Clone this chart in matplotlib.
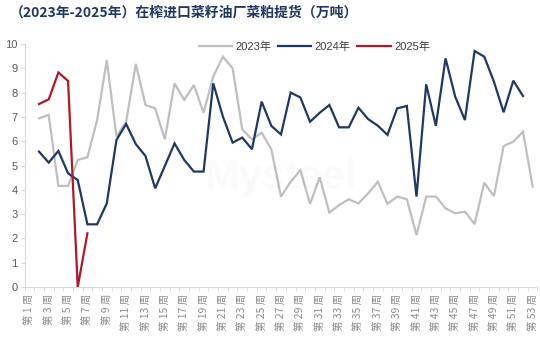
import numpy as np
import matplotlib
matplotlib.use("Agg")
import matplotlib.pyplot as plt
from matplotlib.ticker import FixedLocator

plt.rcParams['font.family'] = ['Liberation Sans', 'Noto Sans CJK SC', 'DejaVu Sans']

nan = np.nan
weeks = list(range(1, 54))
week_labels = [f"第 {w} 周" for w in weeks]

s2023 = [nan, 6.94, 7.08, 4.16, 4.16, 5.23, 5.34, 6.87, 9.34, 6.19,
         6.80, 9.18, 7.49, 7.35, 6.08, 8.38, 7.70, 8.31, 7.17, 8.66,
         9.48, 9.00, 6.49, 6.08, 6.35, 5.67, 3.72, 4.33, 4.81, 3.42,
         4.51, 3.06, 3.37, 3.61, 3.44, 3.85, 4.33, 3.42, 3.72, 3.61,
         2.14, 3.72, 3.72, 3.24, 3.03, 3.10, 2.59, 4.29, 3.74, 5.80,
         5.98, 6.39, 4.13]
s2024 = [nan, 5.57, 5.12, 5.60, 4.68, 4.40, 2.58, 2.58, 3.44, 6.05,
         6.71, 5.88, 5.39, 4.06, 4.98, 5.91, 5.23, 4.75, 4.75, 8.38,
         7.01, 5.94, 6.15, 5.67, 7.63, 6.63, 6.28, 8.00, 7.80, 6.80,
         7.17, 7.49, 6.57, 6.57, 7.38, 6.91, 6.64, 6.26, 7.35, 7.45,
         3.72, 8.34, 6.63, 9.41, 7.83, 6.87, 9.71, 9.48, 8.45, 7.19,
         8.49, 7.86, nan]
s2025 = [nan, 7.53, 7.72, 8.83, 8.48, 0.0, 2.21] + [nan] * 46

series = [("2023年", s2023, "#BFBFBF"),
          ("2024年", s2024, "#1F3864"),
          ("2025年", s2025, "#B0182B")]

title = "（2023年-2025年）在榨进口菜籽油厂菜粕提货（万吨）"

fig = plt.figure(figsize=(5.4, 3.38), dpi=100)
ax = fig.add_axes([24.5 / 540, 1 - 287 / 338, 513 / 540, 243 / 338])

for name, vals, col in series:
    ax.plot(weeks, vals, color=col, lw=1.6, label=name, solid_joinstyle='miter')

ax.set_xlim(0.5, 53.5)
ax.set_ylim(0, 10)
ax.set_yticks(range(0, 11))
ax.set_xticks(weeks[::2])
ax.set_xticklabels(week_labels[::2], rotation=90, fontsize=7.5, color="#8C8C8C",
                   family=['Noto Sans CJK SC', 'DejaVu Sans'])
ax.xaxis.set_minor_locator(FixedLocator(np.arange(0.5, 54, 1)))
ax.tick_params(axis='x', which='major', length=0, pad=5)
ax.tick_params(axis='x', which='minor', length=3, color="#D9D9D9", direction='out')
ax.tick_params(axis='y', length=3, color="#D9D9D9", labelsize=8, labelcolor="#595959", pad=2)

for s in ['top', 'right']:
    ax.spines[s].set_visible(False)
ax.spines['left'].set_color("#D9D9D9")
ax.spines['bottom'].set_color("#D9D9D9")

leg = ax.legend(loc='upper center', bbox_to_anchor=(0.565, 1.05), ncol=3, frameon=False,
                handlelength=3.0, handletextpad=0.3, columnspacing=0.6,
                prop={'family': ['Liberation Sans', 'Noto Sans CJK SC'], 'size': 8})
for t in leg.get_texts():
    t.set_color("#404040")

ax.text(0.5, 0.45, "Mysteel", transform=ax.transAxes, fontsize=30, color="#000000",
        alpha=0.015, ha='center', va='center', fontweight='bold')

fig.text(10 / 540, 1 - 13 / 338, title, fontsize=10, fontweight='bold', color="#1F3864",
         ha='left', va='center', family=['Noto Sans CJK SC', 'DejaVu Sans'])

fig.savefig("out.png", dpi=100)
